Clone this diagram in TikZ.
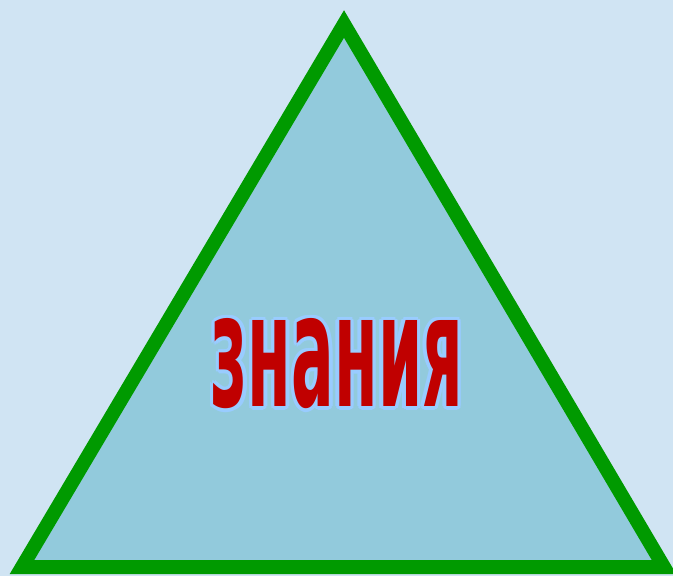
\documentclass[tikz,border=0pt]{standalone}
\usepackage{fontspec}
\setmainfont{DejaVu Sans}
\usepackage{graphicx}
\usetikzlibrary{calc}
\definecolor{bgblue}{HTML}{D0E4F3}
\definecolor{triblue}{HTML}{92CADC}
\definecolor{trigreen}{HTML}{009A00}
\definecolor{wordred}{HTML}{C00000}
\definecolor{glowblue}{HTML}{99CCFF}
\tikzstyle{pyramid} = [
    draw=trigreen,
    fill=triblue,
    line width=14pt,
    line join=miter
]
\tikzstyle{word} = [
    inner sep=0pt,
    anchor=center
]
\newcommand{\wordtext}{\resizebox{252pt}{88pt}{\bfseries знания}}

\begin{document}
\begin{tikzpicture}[x=1pt, y=-1pt]
        % Background
        \fill[bgblue] (0,0) rectangle (673,576);
        \useasboundingbox (0,0) rectangle (673,576);

        % Triangle
        \coordinate (apex) at (344,24);
        \coordinate (left) at (22,567);
        \coordinate (right) at (664,567);
        \draw[pyramid] (apex) -- (left) -- (right) -- cycle;

        % Label with glow
        \coordinate (mid) at (337,364);
        \foreach \a in {0,30,...,330}
            \node[word, text=glowblue] at ($(mid)+(\a:3.5pt)$) {\wordtext};
        \node[word, text=wordred] (label) at (mid) {\wordtext};
    \end{tikzpicture}
\end{document}
